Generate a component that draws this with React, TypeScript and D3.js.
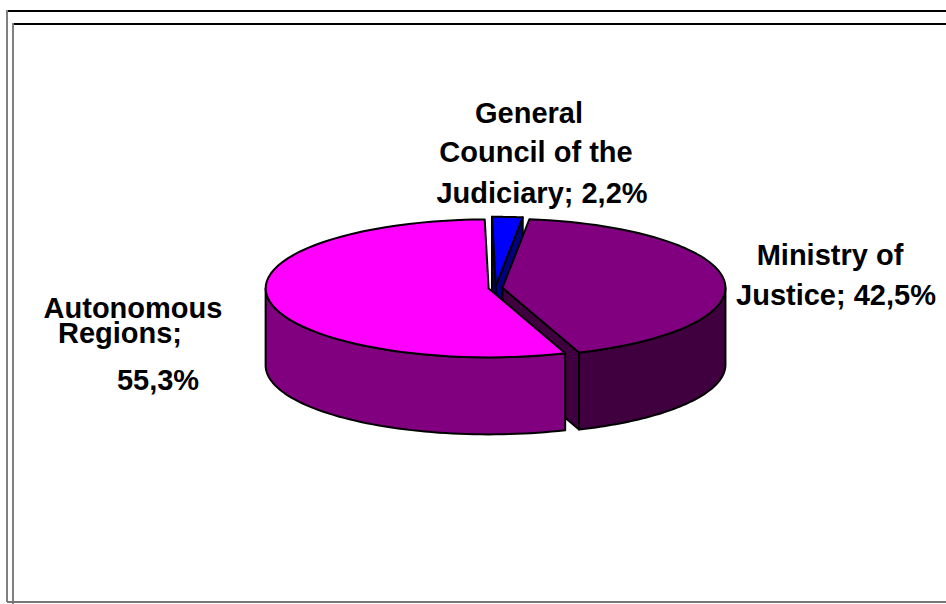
import React from "react";
import * as d3 from "d3";

const sliceNames = ["General Council of the Judiciary", "Ministry of Justice", "Autonomous Regions"];
const sliceValues = [2.2, 42.5, 55.3];
const topColors = ["#0000ff", "#800080", "#ff00ff"];
const sideColors = ["#000080", "#400040", "#800080"];
const cutColors = ["#000080", "#400040", "#800080"];
const labelLines = [
  [{ t: "General", x: 529, y: 123 }, { t: "Council of the", x: 536, y: 162 }, { t: "Judiciary; 2,2%", x: 542, y: 203 }],
  [{ t: "Ministry of", x: 830, y: 265 }, { t: "Justice; 42,5%", x: 836, y: 305 }],
  [{ t: "Autonomous", x: 133, y: 318 }, { t: "Regions;", x: 120, y: 343 }, { t: "55,3%", x: 158, y: 390 }],
];

const W = 946, H = 604;
const cx = 495.5, cy = 288, rx = 223, ry = 69, depth = 77, explode = 7;
const rot = (-1 * Math.PI) / 180;

type P = [number, number];
const pieGen = d3.pie<number>().sort(null).startAngle(rot).endAngle(rot + 2 * Math.PI);
const arcs = pieGen(sliceValues);
const line = d3.line<P>();

function geom(i: number) {
  const a = arcs[i];
  const mid = (a.startAngle + a.endAngle) / 2;
  const ox = cx + explode * Math.sin(mid);
  const oy = cy - (explode * Math.cos(mid) * ry) / rx;
  const pt = (t: number, d = 0): P => [ox + rx * Math.sin(t), oy - ry * Math.cos(t) + d];
  const rim = (s: number, e: number, d = 0): P[] =>
    d3.range(0, 61).map((k) => pt(s + ((e - s) * k) / 60, d));
  return { a, apex: [ox, oy] as P, pt, rim };
}

function closed(points: P[]) {
  return line(points) + "Z";
}

function topPath(i: number) {
  const g = geom(i);
  return closed([g.apex, ...g.rim(g.a.startAngle, g.a.endAngle)]);
}

function cutPath(i: number, t: number) {
  const g = geom(i);
  return closed([g.apex, g.pt(t), g.pt(t, depth), [g.apex[0], g.apex[1] + depth]]);
}

function sidePath(i: number) {
  const g = geom(i);
  const s = Math.max(g.a.startAngle, Math.PI / 2);
  const e = Math.min(g.a.endAngle, (3 * Math.PI) / 2);
  return closed([...g.rim(s, e), ...g.rim(s, e, depth).reverse()]);
}

const stroke = { stroke: "#000", strokeWidth: 2, strokeLinejoin: "round" as const };

export default function App() {
  return (
    <svg width={W} height={H} style={{ position: "absolute", left: 0, top: 0, background: "#fff" }}>
      <g fill="none">
        <path d={`M7 11H${W}`} stroke="#000" strokeWidth={2} />
        <path d={`M13 24H${W}`} stroke="#000" strokeWidth={2} />
        <path d={`M7 10V602`} stroke="#808080" strokeWidth={2} />
        <path d={`M13 23V${H}`} stroke="#808080" strokeWidth={2} />
        <path d={`M7 602H${W}`} stroke="#777" strokeWidth={2} />
      </g>
      <g>
        <path d={cutPath(0, arcs[0].startAngle)} fill={cutColors[0]} {...stroke} />
        <path d={cutPath(0, arcs[0].endAngle)} fill={cutColors[0]} {...stroke} />
        <path d={topPath(0)} fill={topColors[0]} {...stroke} />
        <path d={cutPath(1, arcs[1].endAngle)} fill={cutColors[1]} {...stroke} />
        <path d={sidePath(1)} fill={sideColors[1]} {...stroke} />
        <path d={topPath(1)} fill={topColors[1]} {...stroke} />
        <path d={sidePath(2)} fill={sideColors[2]} {...stroke} />
        <path d={topPath(2)} fill={topColors[2]} {...stroke} />
      </g>
      <g fontFamily="'Liberation Sans', Arial, sans-serif" fontWeight="bold" fontSize={29} textAnchor="middle" fill="#000">
        {labelLines.map((lines, i) =>
          lines.map((l) => (
            <text key={sliceNames[i] + l.t} x={l.x} y={l.y}>
              {l.t}
            </text>
          ))
        )}
      </g>
    </svg>
  );
}
